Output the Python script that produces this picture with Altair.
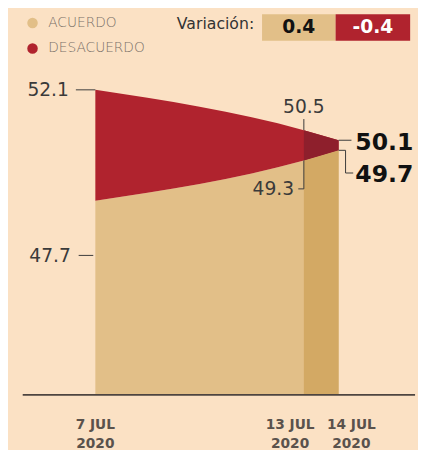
import altair as alt
import pandas as pd

# ---- data ----
days = [7, 13, 14]
acuerdo = [47.7, 49.3, 49.7]
desacuerdo = [52.1, 50.5, 50.1]
series = ["ACUERDO", "DESACUERDO"]
date_labels = ["7 JUL\n2020", "13 JUL\n2020", "14 JUL\n2020"]
variacion_text = ["0.4", "-0.4"]
base_value = 40

# ---- styles ----
BG = "#fbe1c4"
TAN = "#e2bf88"
RED = "#b0232e"
TAN_D = "#d3a964"
RED_D = "#8e1f2c"
INK = "#3a3a3a"
W, H = 400, 334

rows = []
for d, a, s in zip(days, acuerdo, desacuerdo):
    rows.append({"day": d, "serie": "ACUERDO", "top": a, "bottom": base_value})
    rows.append({"day": d, "serie": "DESACUERDO", "top": s, "bottom": a})
df = pd.DataFrame(rows)

x_scale = alt.Scale(domain=[4.91, 16.2], nice=False, zero=False)
y_scale = alt.Scale(domain=[40, 53], nice=False, zero=False)

area = alt.Chart(df).mark_area(interpolate="monotone").encode(
    x=alt.X("day:Q", scale=x_scale, axis=None),
    y=alt.Y("top:Q", scale=y_scale, axis=None, stack=None),
    y2="bottom:Q",
    color=alt.Color("serie:N", scale=alt.Scale(domain=series, range=[TAN, RED]),
                    legend=alt.Legend(orient="none", legendX=3, legendY=-52, title=None,
                                      symbolType="circle", symbolSize=115,
                                      symbolStrokeWidth=0, symbolOpacity=1,
                                      labelFont="DejaVu Sans", labelFontSize=14,
                                      labelFontWeight=300, labelColor="#7a7068",
                                      rowPadding=12, labelOffset=9)),
)

dark = alt.Chart(df).transform_filter("datum.day >= 13").mark_area(interpolate="monotone").encode(
    x=alt.X("day:Q", scale=x_scale, axis=None),
    y=alt.Y("top:Q", scale=y_scale, axis=None, stack=None),
    y2="bottom:Q",
    fill=alt.Fill("serie:N", scale=alt.Scale(domain=series, range=[TAN_D, RED_D]), legend=None),
)

# baseline (x axis line) across the whole plot width
axis_line = alt.Chart(pd.DataFrame({"b": [base_value]})).mark_rule(
    color="#4d4440", strokeWidth=1.8).encode(
    y=alt.Y("b:Q", scale=y_scale, axis=None))

# leader lines (data units)
lead_x = [6.44, 6.52, 13, 13, 12.84, 14, 14, 14.2, 14.2]
lead_x2 = [7, 6.94, 13, 13, 13, 14.37, 14.2, 14.2, 14.42]
lead_y = [52.1, 45.53, 50.5, 49.3, 48.17, 50.1, 49.7, 49.7, 48.8]
lead_y2 = [52.1, 45.53, 50.94, 48.17, 48.17, 50.1, 49.7, 48.8, 48.8]
leaders = alt.Chart(pd.DataFrame({"x": lead_x, "x2": lead_x2, "y": lead_y, "y2": lead_y2})).mark_rule(
    color=INK, strokeWidth=1).encode(
    x=alt.X("x:Q", scale=x_scale, axis=None),
    x2="x2:Q",
    y=alt.Y("y:Q", scale=y_scale, axis=None),
    y2="y2:Q",
)

# value labels
lab_day = [7, 7, 13, 13, 14, 14]
lab_val = [52.1, 47.7, 50.5, 49.3, 50.1, 49.7]
lab_style = [
    dict(dx=-27, dy=0, align="right", fontWeight="normal", fontSize=19),
    dict(dx=-25, dy=56, align="right", fontWeight="normal", fontSize=19),
    dict(dx=0, dy=-23, align="center", fontWeight="normal", fontSize=19),
    dict(dx=-10, dy=29, align="right", fontWeight="normal", fontSize=19),
    dict(dx=17, dy=3, align="left", fontWeight="bold", fontSize=24),
    dict(dx=17, dy=25, align="left", fontWeight="bold", fontSize=24),
]
label_layers = []
for d, v, st in zip(lab_day, lab_val, lab_style):
    label_layers.append(
        alt.Chart(pd.DataFrame({"day": [d], "v": [v]})).mark_text(
            font="DejaVu Sans", color=INK if st["fontWeight"] == "normal" else "#111",
            baseline="middle", **st).encode(
            x=alt.X("day:Q", scale=x_scale, axis=None),
            y=alt.Y("v:Q", scale=y_scale, axis=None),
            text=alt.Text("v:Q", format=".1f"),
        )
    )

# date labels under the axis
date_dx = [0, -14, 13]
date_layers = []
for d, t, ddx in zip(days, date_labels, date_dx):
    date_layers.append(
        alt.Chart(pd.DataFrame({"day": [d], "t": [t], "b": [base_value]})).mark_text(
            font="DejaVu Sans", fontSize=14, fontWeight="bold", color="#5a524c",
            baseline="top", align="center", lineBreak="\n", lineHeight=19,
            dx=ddx, dy=24).encode(
            x=alt.X("day:Q", scale=x_scale, axis=None),
            y=alt.Y("b:Q", scale=y_scale, axis=None),
            text="t:N",
        )
    )

# variación boxes
var_df = pd.DataFrame({"t": ["Variación:"]})
var_title = alt.Chart(var_df).mark_text(
    font="DejaVu Sans", fontSize=16, color="#333", align="right", baseline="middle").encode(
    x=alt.value(236), y=alt.value(-44), text="t:N")

box_x = [244, 319]
box_x2 = [319, 395]
box_fill = [TAN, RED]
box_ink = ["#111", "#ffffff"]
box_layers = []
for t, bx, bx2, bf, bi in zip(variacion_text, box_x, box_x2, box_fill, box_ink):
    bdf = pd.DataFrame({"t": [t]})
    box_layers.append(alt.Chart(bdf).mark_rect(color=bf).encode(
        x=alt.value(bx), x2=alt.value(bx2), y=alt.value(-54), y2=alt.value(-27)))
    box_layers.append(alt.Chart(bdf).mark_text(
        font="DejaVu Sans", fontSize=19, fontWeight="bold", color=bi,
        align="center", baseline="middle").encode(
        x=alt.value((bx + bx2) / 2), y=alt.value(-41), text="t:N"))

chart = alt.layer(area, dark, axis_line, leaders, *label_layers, *date_layers, var_title, *box_layers).properties(
    width=W, height=H,
    autosize=alt.AutoSizeParams(type="none"),
    padding={"left": 15, "top": 56, "right": 3, "bottom": 52},
    background=BG,
).configure_view(stroke=None)

chart.save("out.html", embed_options={"renderer": "svg", "actions": False})
